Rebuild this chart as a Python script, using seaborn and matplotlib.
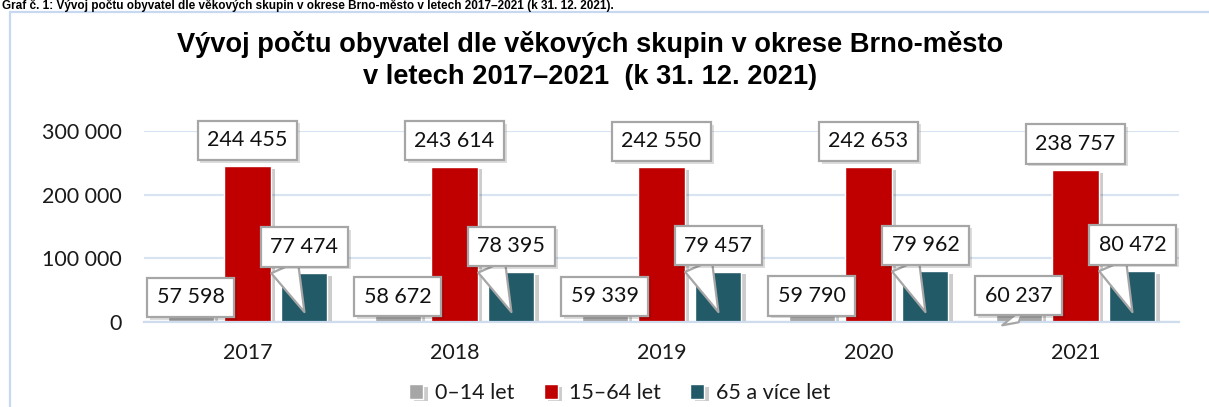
import matplotlib
matplotlib.use("Agg")
import matplotlib.pyplot as plt
import matplotlib.patheffects as pe
from matplotlib.patches import Rectangle
from matplotlib.transforms import offset_copy
import seaborn as sns
import pandas as pd

# ---- data ----
years = ["2017", "2018", "2019", "2020", "2021"]
groups = ["0–14 let", "15–64 let", "65 a více let"]
age_0_14 = [57598, 58672, 59339, 59790, 60237]
age_15_64 = [244455, 243614, 242550, 242653, 238757]
age_65 = [77474, 78395, 79457, 79962, 80472]
y_ticks = [0, 100000, 200000, 300000]
title = "Vývoj počtu obyvatel dle věkových skupin v okrese Brno-město\nv letech 2017–2021  (k 31. 12. 2021)"
caption = "Graf č. 1: Vývoj počtu obyvatel dle věkových skupin v okrese Brno-město v letech 2017–2021 (k 31. 12. 2021)."

colors = ["#a6a6a6", "#c00000", "#225a68"]

df = pd.DataFrame({
    "rok": years * 3,
    "skupina": [groups[0]] * 5 + [groups[1]] * 5 + [groups[2]] * 5,
    "pocet": age_0_14 + age_15_64 + age_65,
})

sns.set_theme(style="white")
plt.rcParams["font.family"] = ["Lato", "DejaVu Sans"]

W, H = 1209, 407
fig = plt.figure(figsize=(W / 100, H / 100), dpi=100)
ax = fig.add_axes([144 / W, 1 - 322.3 / H, (1179 - 144) / W, (322.3 - 130.7) / H])

sns.barplot(data=df, x="rok", y="pocet", hue="skupina", hue_order=groups,
            palette=colors, width=0.825, gap=0.19, saturation=1,
            ax=ax, legend=True, errorbar=None)

# bar shadows
for p in ax.patches:
    p.set_path_effects([pe.SimplePatchShadow(offset=(3, -2), shadow_rgbFace="k", alpha=0.22),
                        pe.Normal()])

ax.set_xlim(-0.5, 4.5)
ax.set_ylim(0, 300000)
ax.set_yticks(y_ticks)
ax.set_yticklabels([f"{v:,}".replace(",", " ") for v in y_ticks], fontsize=15.5, color="#1a1a1a")
ax.set_xlabel("")
ax.set_ylabel("")
ax.tick_params(axis="y", length=0, pad=16)
ax.tick_params(axis="x", which="major", length=0, pad=15, labelsize=15.5, labelcolor="#1a1a1a")
ax.set_xticks([i - 0.5 for i in range(6)], minor=True)
ax.tick_params(axis="x", which="minor", length=7, width=1.2, color="#cfdcee", direction="out")
ax.yaxis.grid(True, color="#d9e4f2", lw=1.6)
ax.set_axisbelow(True)
for s in ["top", "right", "left"]:
    ax.spines[s].set_visible(False)
ax.spines["bottom"].set_color("#cfdcee")
ax.spines["bottom"].set_linewidth(1.6)

# legend
handles, labels = ax.get_legend_handles_labels()
ax.legend(handles, labels, loc="center", bbox_to_anchor=(620 / W, 1 - 393 / H),
          bbox_transform=fig.transFigure, ncol=3, frameon=False, fontsize=15.5,
          handlelength=0.65, handleheight=0.65, handletextpad=0.55, columnspacing=1.35,
          labelcolor="#1a1a1a")

# data labels
box_kw = dict(boxstyle="square,pad=0.45", fc="white", ec="#a6a6a6", lw=1.6)
shadow = [pe.SimplePatchShadow(offset=(2, -2), shadow_rgbFace="k", alpha=0.15), pe.Normal()]
offsets = [-8.5, 18.7, 18.7]
for gi, cont in enumerate(ax.containers):
    tr = offset_copy(ax.transData, fig=fig, x=0, y=offsets[gi], units="points")
    for bi, bar in enumerate(cont):
        xc = bar.get_x() + bar.get_width() / 2
        val = bar.get_height()
        txt = f"{int(round(val)):,}".replace(",", " ")
        arrow = None
        xy = (xc, val)
        if gi == 2:
            xy = (xc, 16000)
            arrow = dict(arrowstyle="wedge,tail_width=1.4,shrink_factor=0.5", mutation_scale=15,
                         fc="white", ec="#a6a6a6", lw=1.6, relpos=(0.14, 0.0),
                         shrinkA=0, shrinkB=0)
        elif gi == 0 and bi == len(cont) - 1:
            xy = (xc, 0)
            arrow = dict(arrowstyle="wedge,tail_width=1.4,shrink_factor=0.5", mutation_scale=15,
                         fc="white", ec="#a6a6a6", lw=1.6, relpos=(0.3, 0.0),
                         shrinkA=0, shrinkB=0)
        ann = ax.annotate(txt, xy=xy, xytext=(xc, val), textcoords=tr,
                          ha="center", va="center", fontsize=15.5, color="#111111",
                          bbox=box_kw, arrowprops=arrow, annotation_clip=False, zorder=5)
        ann.get_bbox_patch().set_path_effects(shadow)

# title
fig.text(590 / W, 1 - 61 / H, title, ha="center", va="center", fontsize=19.6, weight="bold",
         family=["Liberation Sans", "DejaVu Sans"], linespacing=1.3, color="#000000")

# caption at the top
fig.text(2 / W, 1 - 9 / H, caption, ha="left", va="baseline", fontsize=8.5, weight="bold",
         family=["Liberation Sans", "DejaVu Sans"], color="#000000")

# frame
fig.patches.append(Rectangle((10 / W, -0.1), 1.2, 1.1 - 12 / H, transform=fig.transFigure,
                             fill=False, ec="#c6d9f0", lw=1.6, zorder=0))

fig.savefig("out.png", dpi=100)
